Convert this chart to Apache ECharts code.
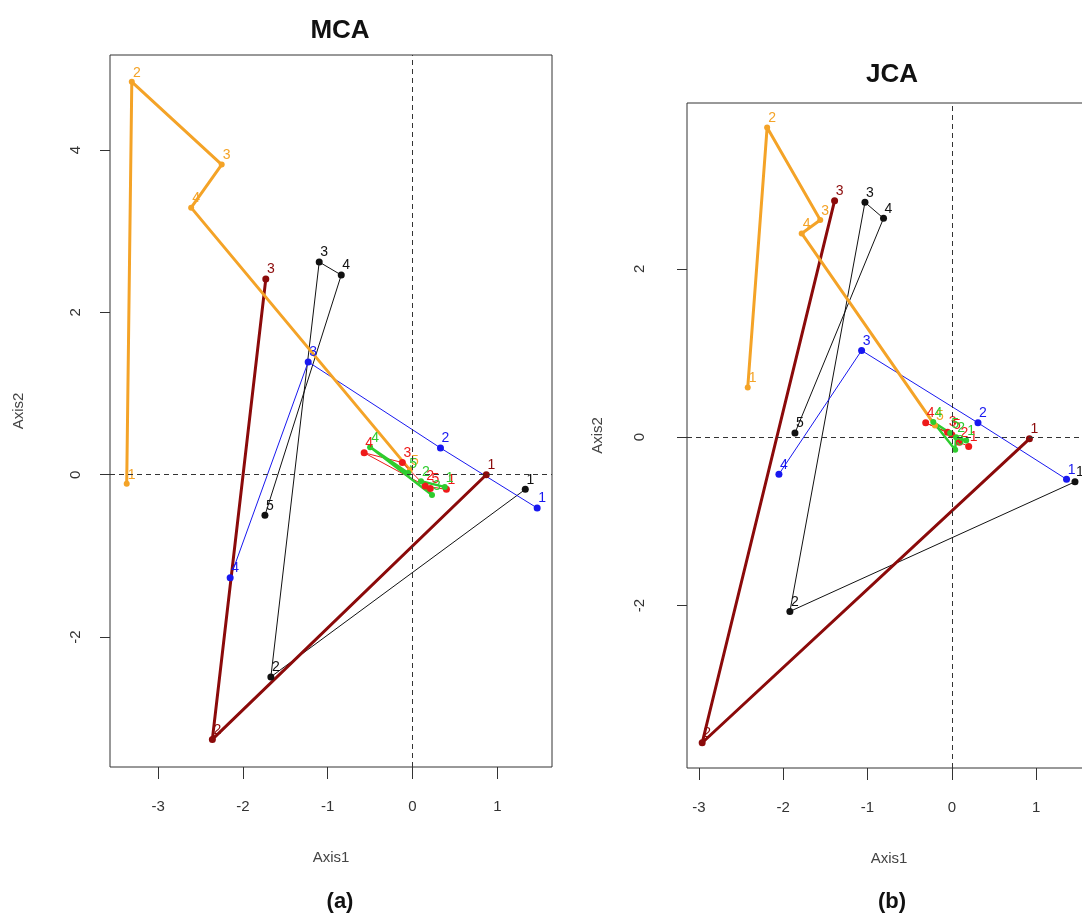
<!DOCTYPE html>
<html lang="en">

<head>
  <meta charset="UTF-8">
  <title>MCA vs JCA</title>
  <style media="screen">
    html, body { margin: 0; padding: 0; background: #fff; }
  </style>
</head>

<body>
  <div id="main" style="width:1082px;height:924px;"></div>
</body>
<script src="https://cdn.jsdelivr.net/npm/echarts@6/dist/echarts.min.js"></script>

<script>
  // tick labels
  var mcaXTicks = [-3, -2, -1, 0, 1];
  var mcaYTicks = [-2, 0, 2, 4];
  var jcaXTicks = [-3, -2, -1, 0, 1];
  var jcaYTicks = [-2, 0, 2];

  // MCA trajectories, points in order 1..n  [Axis1, Axis2]
  var mcaOrange = [[-3.37, -0.11], [-3.31, 4.84], [-2.25, 3.82], [-2.61, 3.29], [-0.03, 0.06]];
  var mcaDarkred = [[0.87, 0.0], [-2.36, -3.26], [-1.73, 2.41]];
  var mcaBlack = [[1.33, -0.18], [-1.67, -2.49], [-1.10, 2.62], [-0.84, 2.46], [-1.74, -0.50]];
  var mcaBlue = [[1.47, -0.41], [0.33, 0.33], [-1.23, 1.39], [-2.15, -1.27]];
  var mcaRed = [[0.40, -0.18], [0.15, -0.14], [-0.12, 0.15], [-0.57, 0.27], [0.21, -0.17]];
  var mcaGreen = [[0.38, -0.15], [0.10, -0.08], [0.23, -0.25], [-0.50, 0.34], [-0.05, 0.02]];

  // JCA trajectories
  var jcaOrange = [[-2.42, 0.59], [-2.19, 3.68], [-1.56, 2.58], [-1.78, 2.42], [-0.20, 0.14]];
  var jcaDarkred = [[0.92, -0.02], [-2.96, -3.63], [-1.39, 2.81]];
  var jcaBlack = [[1.46, -0.53], [-1.92, -2.07], [-1.03, 2.79], [-0.81, 2.60], [-1.86, 0.05]];
  var jcaBlue = [[1.36, -0.50], [0.31, 0.17], [-1.07, 1.03], [-2.05, -0.44]];
  var jcaRed = [[0.20, -0.11], [0.09, -0.06], [-0.05, 0.06], [-0.31, 0.17], [0.00, 0.03]];
  var jcaGreen = [[0.17, -0.04], [0.05, 0.00], [0.04, -0.15], [-0.22, 0.18], [-0.02, 0.05]];

  var ORANGE = '#F4A327', DARKRED = '#8B0A0A', BLACK = '#111111',
      BLUE = '#1818F0', RED = '#EE1A1A', GREEN = '#2ECC2E';

  var font = 'Liberation Sans, Arial, sans-serif';

  function traj(data, color, width, grid, size) {
    return {
      type: 'line',
      xAxisIndex: grid,
      yAxisIndex: grid,
      data: data,
      symbol: 'circle',
      symbolSize: size || 7,
      lineStyle: { color: color, width: width },
      itemStyle: { color: color },
      label: {
        show: true,
        position: 'top',
        distance: 2,
        offset: [5, 3],
        fontSize: 14,
        fontFamily: font,
        color: color,
        formatter: function (p) { return p.dataIndex + 1; }
      },
      emphasis: { disabled: true },
      animation: false
    };
  }

  function zeroLines(s) {
    s.markLine = {
      silent: true,
      symbol: 'none',
      label: { show: false },
      lineStyle: { type: [5, 4], color: '#333', width: 1 },
      data: [{ xAxis: 0 }, { yAxis: 0 }]
    };
    return s;
  }

  function xAx(grid, min, max, ticks) {
    return {
      type: 'value', gridIndex: grid, min: min, max: max,
      splitLine: { show: false },
      axisLine: { show: false, onZero: false },
      axisTick: { show: true, length: 12, customValues: ticks, lineStyle: { color: '#333' } },
      axisLabel: { customValues: ticks, margin: 32, fontSize: 15, fontFamily: font, color: '#333' },
      name: 'Axis1', nameLocation: 'middle', nameGap: 83,
      nameTextStyle: { fontSize: 15, fontFamily: font, color: '#444' }
    };
  }

  function yAx(grid, min, max, ticks, margin, gap) {
    return {
      type: 'value', gridIndex: grid, min: min, max: max,
      splitLine: { show: false },
      axisLine: { show: false, onZero: false },
      axisTick: { show: true, length: 10, customValues: ticks, lineStyle: { color: '#333' } },
      axisLabel: { customValues: ticks, rotate: 90, margin: margin, fontSize: 15, fontFamily: font, color: '#333' },
      name: 'Axis2', nameLocation: 'middle', nameGap: gap, nameRotate: 90,
      nameTextStyle: { fontSize: 15, fontFamily: font, color: '#444' }
    };
  }

  var myChart = echarts.init(document.getElementById('main'));

  myChart.setOption({
    backgroundColor: '#ffffff',
    animation: false,
    title: [
      { text: 'MCA', left: 335, top: 13, textAlign: 'center', textStyle: { fontSize: 26, fontWeight: 'bold', fontFamily: font, color: '#111' } },
      { text: 'JCA', left: 887, top: 57, textAlign: 'center', textStyle: { fontSize: 26, fontWeight: 'bold', fontFamily: font, color: '#111' } },
      { text: '(a)', left: 335, top: 886, textAlign: 'center', textStyle: { fontSize: 22, fontWeight: 'bold', fontFamily: font, color: '#111' } },
      { text: '(b)', left: 887, top: 886, textAlign: 'center', textStyle: { fontSize: 22, fontWeight: 'bold', fontFamily: font, color: '#111' } }
    ],
    grid: [
      { left: 110, top: 55, width: 442, height: 712, show: true, borderColor: '#333', borderWidth: 1, backgroundColor: 'transparent', outerBoundsMode: 'none' },
      { left: 687, top: 103, width: 404, height: 665, show: true, borderColor: '#333', borderWidth: 1, backgroundColor: 'transparent', outerBoundsMode: 'none' }
    ],
    xAxis: [
      xAx(0, -3.567, 1.645, mcaXTicks),
      xAx(1, -3.14, 1.65, jcaXTicks)
    ],
    yAxis: [
      yAx(0, -3.60, 5.17, mcaYTicks, 27, 84),
      yAx(1, -3.93, 3.97, jcaYTicks, 40, 82)
    ],
    series: [
      zeroLines(traj(mcaBlack, BLACK, 1, 0)),
      traj(mcaBlue, BLUE, 1, 0),
      traj(mcaDarkred, DARKRED, 3, 0),
      traj(mcaOrange, ORANGE, 3, 0, 6),
      traj(mcaRed, RED, 1, 0),
      traj(mcaGreen, GREEN, 2.5, 0, 6),

      zeroLines(traj(jcaBlack, BLACK, 1, 1)),
      traj(jcaBlue, BLUE, 1, 1),
      traj(jcaDarkred, DARKRED, 3, 1),
      traj(jcaOrange, ORANGE, 3, 1, 6),
      traj(jcaRed, RED, 1, 1),
      traj(jcaGreen, GREEN, 2.5, 1, 6)
    ]
  });
</script>

</html>
